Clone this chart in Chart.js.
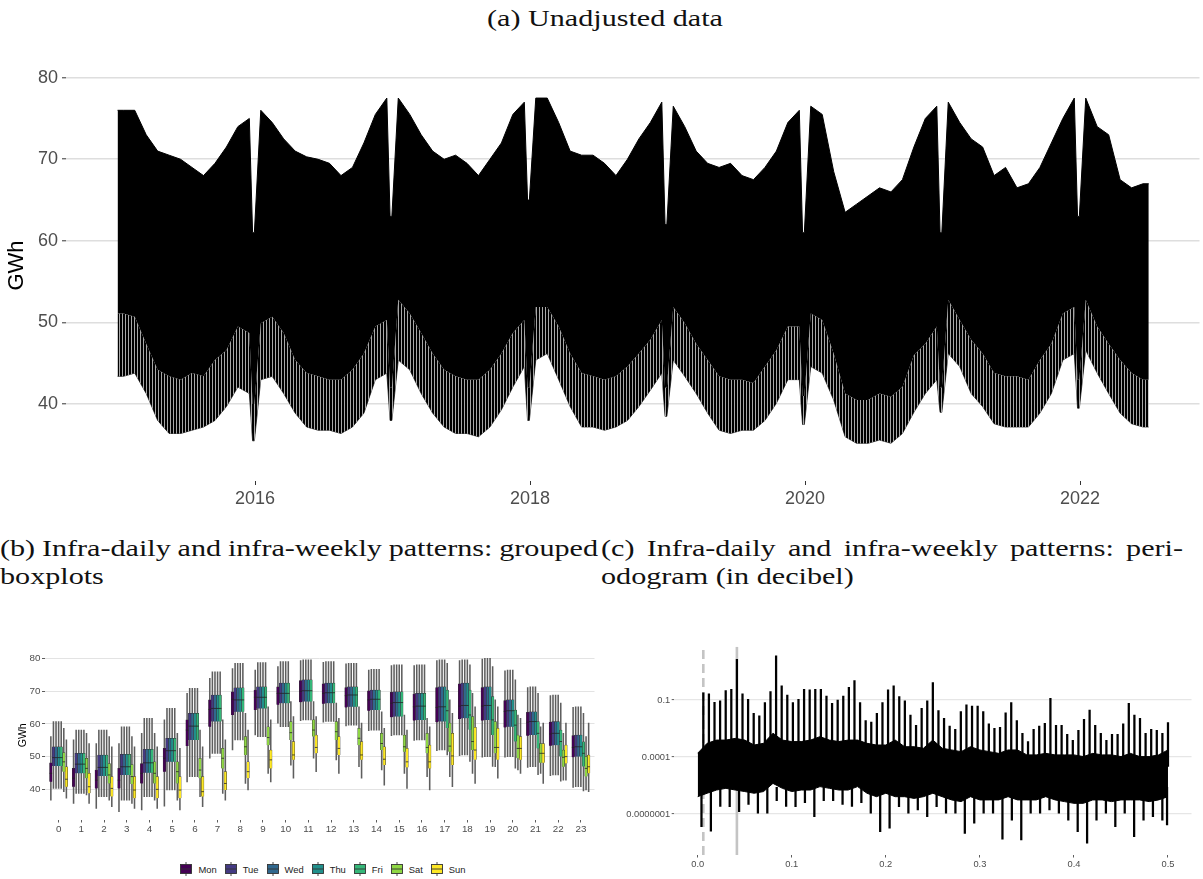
<!DOCTYPE html>
<html>
<head>
<meta charset="utf-8">
<script src="https://cdn.jsdelivr.net/npm/chart.js@4.4.0/dist/chart.umd.min.js"></script>
<style>
  body { margin: 0; background: #fff; }
  #page { position: relative; width: 1203px; height: 879px; overflow: hidden; background: #fff; }
  canvas { position: absolute; }
  .cap { position: absolute; font-family: "Liberation Serif", serif; font-size: 24px; line-height: 28px;
         white-space: nowrap; color: #111; transform-origin: 0 0; }
  #legend { position: absolute; left: 0; width: 646px; top: 861px; height: 16px; display: flex;
            justify-content: center; align-items: center; font: 9.4px "Liberation Sans", Arial, sans-serif; color: #222; }
  #legend .item { display: flex; align-items: center; margin: 0 4px; }
  #legend svg { margin-right: 6px; }
</style>
</head>
<body>
<div id="page">
  <div class="cap" id="title" style="left:487px; top:4px;">(a) Unadjusted data</div>
  <canvas id="chartA" width="1203" height="500" style="left:0; top:30px;"></canvas>

  <div class="cap" data-w="598" style="left:0; top:534px;">(b) Infra-daily and infra-weekly patterns: grouped</div>
  <div class="cap" style="left:0; top:562px;">boxplots</div>
  <div class="cap" data-w="582" style="left:601px; top:534px;">(c) Infra-daily and infra-weekly patterns: peri-</div>
  <div class="cap" style="left:601px; top:562px;">odogram (in decibel)</div>

  <canvas id="chartB" width="600" height="205" style="left:0; top:640px;"></canvas>
  <div id="legend"></div>
  <canvas id="chartC" width="603" height="242" style="left:600px; top:637px;"></canvas>
</div>

<script>
// ============================================================
// (a) hourly consumption, read as monthly envelopes (GWh)
// ============================================================
// Jan 2015 .. Jun 2022, one value per month
const monthHigh = [
  76, 76, 73, 71, 70.5, 70, 69, 68, 69.5, 71.5, 74, 75,
  76, 74.5, 72.5, 71, 70.3, 70, 69.5, 68, 69, 72, 75.5, 77.5,
  77.5, 75.5, 73, 71, 70, 70.5, 69.5, 68, 70, 72, 75.5, 77,
  77.5, 77.5, 74.5, 71, 70.5, 70.5, 69.5, 68, 70, 72.5, 74.5, 77,
  76.5, 74, 71, 69.5, 69, 69.5, 68, 67.5, 69, 71, 74.5, 76,
  76.5, 75.5, 68.5, 63.5, 64.5, 65.5, 66.5, 66, 67.5, 71.5, 75, 76.5,
  77, 74.5, 72.5, 71.5, 68, 69, 66.5, 67, 69, 72, 75, 77.5,
  77.5, 74, 73, 67.5, 66.5, 67
];
// where the solid black stops and the weekly "comb" starts
const monthCore = [
  51.1, 50.7, 47.4, 44.2, 43.4, 43, 43.8, 43.4, 45.4, 46.6, 49.5, 48.7,
  49.9, 50.7, 48.7, 45.4, 43.8, 43.4, 43, 43, 44.2, 46.2, 49.5, 50.3,
  52.8, 51.1, 48.7, 46.2, 44.2, 43.4, 43, 43, 44.2, 46.2, 48.7, 50.3,
  51.9, 51.9, 49.5, 46.2, 43.8, 43.4, 43, 43.4, 44.6, 46.2, 47.9, 50.3,
  51.9, 49.9, 47.4, 45.4, 43.4, 43, 43, 42.6, 44.6, 46.6, 49.5, 49.5,
  51.1, 50.3, 46.2, 41.3, 40.5, 40.5, 41.3, 40.9, 42.1, 46, 47.4, 49.5,
  52.8, 50.3, 47.9, 46.2, 43.8, 43.4, 43.4, 43, 45.4, 47.4, 51.1, 51.9,
  52.8, 49.5, 47.4, 45.4, 43.8, 43
];
// lowest teeth
const monthTip = [
  43.4, 43.8, 41.3, 38, 36.4, 36.4, 36.8, 37.2, 38, 39.7, 42.1, 41.3,
  43, 43.4, 41.3, 38.9, 37.2, 36.8, 36.8, 36.4, 37.2, 38.9, 43, 43.8,
  45.4, 44.2, 41.3, 38.9, 37.2, 36.4, 36.4, 36, 37.2, 39.3, 42.1, 44.6,
  45.4, 46.2, 43, 39.7, 37.2, 37.2, 36.8, 37.2, 38, 39.7, 41.7, 43.8,
  45.4, 43.4, 41.3, 38.9, 36.8, 36.4, 36.8, 36.8, 38, 40.1, 43, 43,
  44.6, 43.8, 40.5, 36, 35.2, 35.2, 35.6, 35.2, 36.4, 39, 41.3, 43,
  46.2, 44.6, 41.3, 39.7, 37.6, 37.2, 37.2, 37.2, 38.9, 41.3, 45.4, 46.2,
  46.6, 43.8, 41.3, 38.9, 37.6, 37.2
];
// Christmas week dips
const xmasYears = [2015, 2016, 2017, 2018, 2019, 2020, 2021];
const xmasHigh = [61, 63, 65, 62, 61, 61, 63];
const xmasCore = [40, 42, 42, 42, 41, 42, 43];
const xmasTip = [35.5, 38, 38, 38.5, 37.5, 39, 39.5];

const yearTicks = [2016, 2018, 2020, 2022];
const gwhTicks = [40, 50, 60, 70, 80];

// ============================================================
// (b) grouped boxplots, rows = Mon..Sun, columns = hour 0..23
// ============================================================
const hours = [0,1,2,3,4,5,6,7,8,9,10,11,12,13,14,15,16,17,18,19,20,21,22,23];
const dayNames = ["Mon", "Tue", "Wed", "Thu", "Fri", "Sat", "Sun"];
const dayColors = ["#440154", "#443A83", "#31688E", "#21908C", "#35B779", "#8FD744", "#FDE725"];

const boxLow = [
  [36.7,35.7,34.2,33.2,33.7,34.9,42.3,49.5,52.0,56.6,60.2,61.0,60.5,59.4,57.9,56.4,54.9,51.8,50.3,49.8,49.8,46.7,44.2,40.6],
  [40.3,38.8,37.8,36.7,37.8,39.8,43.9,51.0,55.1,56.1,59.1,61.2,60.7,59.6,58.1,56.6,55.1,52.0,50.5,50.0,50.0,46.9,44.4,40.8],
  [40.3,38.8,37.8,36.7,37.8,39.8,43.9,51.0,55.1,56.1,59.1,61.2,60.7,59.6,58.1,56.6,55.1,52.0,50.5,50.0,50.0,46.9,44.4,40.8],
  [40.3,38.8,37.8,36.7,37.8,39.8,43.9,51.0,55.1,56.1,59.1,61.2,60.7,59.6,58.1,56.6,55.1,52.0,50.5,50.0,50.0,46.9,44.4,40.8],
  [40.3,38.8,37.8,36.7,37.8,39.8,43.9,51.0,55.1,56.1,59.1,61.2,60.7,59.6,58.1,56.6,55.1,50.5,48.5,47.0,46.5,44.5,42.5,39.5],
  [39.3,38.3,36.7,35.7,36.7,36.7,37.8,38.8,41.8,44.9,47.4,49.5,49.0,46.9,45.9,44.9,43.9,43.9,44.9,46.9,45.9,44.9,42.8,39.8],
  [37.3,35.7,34.7,34.2,34.2,33.7,34.7,36.7,39.8,42.3,43.4,45.4,44.9,43.4,41.3,40.3,39.8,40.8,41.8,43.4,44.9,41.8,42.8,39.3]
];
const boxQ1 = [
  [42.3,40.8,40.3,40.3,41.8,45.4,53.2,59.1,62.7,64.2,65.8,66.6,66.1,65.0,64.0,62.0,61.0,60.5,61.5,61.0,58.9,56.4,53.3,49.8],
  [47.1,44.9,44.1,44.4,45.1,48.4,55.1,60.7,63.7,64.7,66.3,66.8,66.3,65.2,64.2,62.2,61.2,60.7,61.7,61.2,59.1,56.6,53.5,50.0],
  [47.1,44.9,44.1,44.4,45.1,48.4,55.1,60.7,63.7,64.7,66.3,66.8,66.3,65.2,64.2,62.2,61.2,60.7,61.7,61.2,59.1,56.6,53.5,50.0],
  [47.1,44.9,44.1,44.4,45.1,48.4,55.1,60.7,63.7,64.7,66.3,66.8,66.3,65.2,64.2,62.2,61.2,60.7,61.7,61.2,59.1,56.6,53.5,50.0],
  [47.1,44.9,44.1,44.4,45.1,48.4,55.1,60.7,63.7,64.7,66.3,66.8,66.3,65.2,64.2,62.2,61.2,58.7,58.2,56.6,54.6,52.5,50.0,47.0],
  [45.4,43.4,41.8,41.6,41.8,41.8,43.4,46.4,50.5,53.5,55.1,56.1,55.1,53.5,52.0,51.5,51.0,51.5,52.0,51.0,49.5,48.1,46.9,43.9],
  [40.8,38.8,37.8,37.3,37.3,37.3,37.8,39.8,43.4,46.4,49.0,51.0,50.5,49.0,47.4,46.7,46.4,47.4,49.0,49.0,49.0,48.1,47.9,44.9]
];
const boxMed = [
  [44.9,43.4,42.8,42.8,44.9,49.5,58.1,64.4,67.5,68.1,69.3,69.9,69.3,68.6,67.3,66.3,65.2,65.0,65.4,65.4,63.8,60.5,56.9,52.8],
  [49.7,47.7,46.7,46.9,48.1,51.8,59.3,64.7,67.3,68.1,69.3,70.1,69.5,68.8,67.5,66.5,65.4,65.2,65.6,65.6,64.0,60.7,57.1,53.0],
  [49.7,47.7,46.7,46.9,48.1,51.8,59.3,64.7,67.3,68.1,69.3,70.1,69.5,68.8,67.5,66.5,65.4,65.2,65.6,65.6,64.0,60.7,57.1,53.0],
  [49.7,47.7,46.7,46.9,48.1,51.8,59.3,64.7,67.3,68.1,69.3,70.1,69.5,68.8,67.5,66.5,65.4,65.2,65.6,65.6,64.0,60.7,57.1,53.0],
  [49.7,47.7,46.7,46.9,48.1,51.8,59.3,64.7,67.3,68.1,69.3,70.1,69.5,68.8,67.5,66.5,65.4,64.0,62.7,61.2,59.6,57.1,54.6,51.0],
  [48.4,46.4,44.4,43.9,44.9,45.4,45.9,49.5,53.0,55.8,57.3,58.1,57.6,55.6,54.0,53.0,52.8,53.2,54.6,52.8,52.5,51.0,49.8,46.4],
  [43.1,40.8,40.3,39.8,40.0,39.8,39.3,41.8,45.4,49.0,50.5,52.8,52.5,50.5,49.2,48.4,48.4,50.2,52.0,52.8,52.5,51.0,50.0,46.9]
];
const boxQ3 = [
  [48.1,46.4,45.9,46.4,47.9,52.5,61.2,67.3,69.8,70.3,71.3,73.2,72.2,71.1,70.1,69.6,69.1,71.1,72.2,71.1,67.1,63.5,60.5,56.4],
  [53.0,51.0,50.5,50.7,52.2,55.6,63.2,68.8,71.0,71.3,72.4,73.4,72.4,71.3,70.3,69.8,69.3,71.3,72.4,71.3,67.3,63.7,60.7,56.6],
  [53.0,51.0,50.5,50.7,52.2,55.6,63.2,68.8,71.0,71.3,72.4,73.4,72.4,71.3,70.3,69.8,69.3,71.3,72.4,71.3,67.3,63.7,60.7,56.6],
  [53.0,51.0,50.5,50.7,52.2,55.6,63.2,68.8,71.0,71.3,72.4,73.4,72.4,71.3,70.3,69.8,69.3,71.3,72.4,71.3,67.3,63.7,60.7,56.6],
  [53.0,51.0,50.5,50.7,52.2,55.6,63.2,68.8,71.0,71.3,72.4,73.4,72.4,71.3,70.3,69.8,69.3,70.3,70.3,68.3,64.2,60.7,58.1,54.5],
  [51.2,49.5,47.9,47.6,48.4,48.4,49.5,52.5,56.1,59.1,60.7,61.2,60.7,58.6,57.1,56.6,57.1,60.2,62.2,60.7,56.6,54.0,52.0,50.0],
  [46.9,44.9,43.9,43.9,43.9,43.9,43.9,45.4,48.4,52.0,54.6,56.6,56.1,54.6,53.0,52.5,53.5,57.1,58.9,58.6,56.1,54.0,53.5,50.5]
];
const boxHigh = [
  [56.1,55.1,54.0,54.0,57.1,61.2,69.3,73.9,76.9,76.4,77.5,79.3,78.8,78.3,76.4,77.8,77.8,79.3,79.3,79.8,76.2,71.1,68.6,65.0],
  [60.7,58.1,58.1,59.1,61.7,64.7,70.8,75.9,78.5,78.7,79.0,79.5,79.0,78.5,76.6,78.0,78.0,79.5,79.5,80.0,76.4,71.3,68.8,65.2],
  [60.7,58.1,58.1,59.1,61.7,64.7,70.8,75.9,78.5,78.7,79.0,79.5,79.0,78.5,76.6,78.0,78.0,79.5,79.5,80.0,76.4,71.3,68.8,65.2],
  [60.7,58.1,58.1,59.1,61.7,64.7,70.8,75.9,78.5,78.7,79.0,79.5,79.0,78.5,76.6,78.0,78.0,79.5,79.5,80.0,76.4,71.3,68.8,65.2],
  [60.7,58.1,58.1,59.1,61.7,64.7,70.8,75.9,78.5,78.7,79.0,79.5,79.0,78.5,76.6,78.0,78.0,78.5,78.0,77.5,73.4,69.3,66.3,63.2],
  [58.6,57.1,56.1,56.1,57.1,57.1,58.1,61.2,63.2,65.2,66.8,66.8,66.3,65.2,63.7,62.7,61.7,67.3,69.3,67.3,62.7,59.1,57.1,56.1],
  [55.1,54.0,53.0,53.0,53.0,52.5,53.0,55.1,58.1,61.2,62.2,62.2,61.7,60.2,58.6,58.1,59.1,63.2,65.2,65.2,61.7,60.2,60.2,60.2]
];

// ============================================================
// (c) periodogram, log10 of the spectral values
// ============================================================
// noise band every 0.01 from 0.00 to 0.50
const bandTop = [
  -3.8, -3.28, -3.11, -3.11, -3.02, -3.11, -3.37, -3.28, -2.75, -3.11,
  -3.19, -3.19, -3.11, -2.93, -3.11, -3.19, -3.11, -3.11, -3.28, -3.37,
  -3.37, -3.11, -3.46, -3.46, -3.54, -3.11, -3.54, -3.63, -3.72, -3.46,
  -3.63, -3.72, -3.81, -3.63, -3.63, -3.89, -3.89, -3.81, -3.89, -3.89,
  -3.89, -3.98, -3.81, -3.89, -3.89, -3.98, -3.81, -3.98, -3.98, -3.89, -3.63
];
const bandBottom = [
  -6.09, -5.91, -5.74, -5.65, -5.74, -5.82, -5.91, -5.82, -5.39, -5.65,
  -5.82, -5.74, -5.74, -5.56, -5.65, -5.74, -5.74, -5.56, -5.91, -6.09,
  -5.91, -6.09, -6.09, -6.18, -6.09, -5.91, -6.09, -6.26, -6.35, -6.09,
  -6.26, -6.26, -6.26, -6.09, -6.26, -6.26, -6.26, -6.09, -6.26, -6.35,
  -6.44, -6.44, -6.26, -6.26, -6.35, -6.26, -6.26, -6.26, -6.35, -6.26, -6.09
];
const bandDips = [
  -7.67, -7.9, -6.6, -6.61, -6.88, -6.5, -6.96, -6.96, -6.3, -6.6,
  -6.61, -6.4, -7.14, -6.3, -6.3, -6.5, -6.6, -6.4, -6.96, -7.93,
  -7.75, -6.61, -6.96, -6.79, -7.14, -6.61, -6.96, -6.96, -8.02, -7.49,
  -6.96, -6.96, -8.33, -7.32, -8.37, -6.96, -6.96, -6.79, -6.96, -7.32,
  -7.93, -8.54, -7.32, -6.96, -7.67, -6.96, -8.19, -7.32, -7.14, -7.32, -7.58
];
// peaks at the harmonics k/168, k = 1..84
const peakTop = [
  -0.62, -0.68, -1.12, -1.04, -0.51, -0.44, 1.14, -0.68, -0.96, -1.70,
  -1.84, -1.14, -0.56, 1.32, -0.26, -0.74, -1.14, -0.96, -0.44, -0.47,
  -0.44, -0.44, -0.79, -1.18, -1.0, -0.79, -0.33, 0.02, -1.14, -2.09,
  -2.16, -1.70, -1.14, -0.47, -0.26, -0.82, -1.04, -1.79, -2.33, -1.44,
  -1.05, -0.09, -1.56, -1.96, -2.37, -2.54, -1.61, -1.26, -1.32, -1.32,
  -1.61, -2.26, -2.49, -2.44, -1.67, -1.14, -2.09, -2.75, -3.19, -2.54,
  -2.37, -2.23, -0.91, -2.33, -2.33, -2.81, -3.12, -2.60, -2.02, -1.53,
  -2.33, -2.75, -3.12, -2.81, -2.81, -2.26, -1.18, -1.79, -1.96, -2.75,
  -2.54, -2.60, -2.75, -2.19
];
const weeklyFreq = 1 / 168;
const dailyFreq = 1 / 24;
const freqTicks = [0, 0.1, 0.2, 0.3, 0.4, 0.5];
const freqLabels = ["0.0", "0.1", "0.2", "0.3", "0.4", "0.5"];
const powerTicks = [1e-7, 1e-4, 0.1];
const powerLabels = ["0.0000001", "0.0001", "0.1"];

// ============================================================
Chart.defaults.font.family = '"Liberation Sans", Arial, sans-serif';
Chart.defaults.animation = false;
Chart.defaults.responsive = false;
Chart.defaults.plugins.legend.display = false;
Chart.defaults.plugins.tooltip.enabled = false;

const tickGrey = "#4d4d4d";

// ── captions: serif, stretched to the widths of the original ──
(function fitCaptions() {
    var ctx = document.createElement("canvas").getContext("2d");
    ctx.font = '24px "Liberation Serif"';
    var title = document.getElementById("title");
    var s = 236 / ctx.measureText(title.textContent).width;
    document.querySelectorAll(".cap").forEach(function (el) {
        var w = ctx.measureText(el.textContent).width;
        var target = Number(el.dataset.w || 0);
        if (target) {
            var spaces = (el.textContent.match(/ /g) || []).length;
            el.style.wordSpacing = ((target / s - w) / spaces) + "px";
        }
        el.style.transform = "scaleX(" + s + ")";
    });
})();

// ── (a) series ──
function stripes() {
    var c = document.createElement("canvas");
    c.width = 3; c.height = 4;
    var g = c.getContext("2d");
    g.fillStyle = "#000"; g.fillRect(0, 0, 2, 4);
    g.fillStyle = "#a8a8a8"; g.fillRect(2, 0, 1, 4);
    return g.createPattern(c, "repeat");
}

var rows = [];
monthHigh.forEach(function (v, i) {
    rows.push({ x: 2015 + (i + 0.5) / 12, hi: v, core: monthCore[i], tip: monthTip[i] });
});
xmasYears.forEach(function (y, i) {
    [0.982, 0.995].forEach(function (f) {
        rows.push({ x: y + f, hi: xmasHigh[i], core: xmasCore[i], tip: xmasTip[i] });
    });
});
var last = monthHigh.length - 1;
rows.push({ x: 2015, hi: monthHigh[0], core: monthCore[0], tip: monthTip[0] });
rows.push({ x: 2015 + monthHigh.length / 12, hi: monthHigh[last], core: monthCore[last], tip: monthTip[last] });
rows.sort(function (a, b) { return a.x - b.x; });

new Chart(document.getElementById("chartA"), {
    type: "line",
    data: {
        datasets: [
            { data: rows.map(function (r) { return { x: r.x, y: r.hi }; }),
              borderColor: "#000", borderWidth: 1, backgroundColor: "#000", fill: "+1" },
            { data: rows.map(function (r) { return { x: r.x, y: r.core }; }),
              borderWidth: 0, backgroundColor: stripes(), fill: "+1" },
            { data: rows.map(function (r) { return { x: r.x, y: r.tip }; }),
              borderColor: "#222", borderWidth: 0.8, fill: false }
        ]
    },
    options: {
        layout: { padding: { top: 20, right: 3.5, left: 0, bottom: 0 } },
        elements: { point: { radius: 0 }, line: { tension: 0 } },
        scales: {
            x: {
                type: "linear", min: 2014.625, max: 2022.869,
                afterBuildTicks: function (s) { s.ticks = yearTicks.map(function (v) { return { value: v }; }); },
                afterFit: function (s) { s.height = 49; },
                grid: { drawOnChartArea: false, tickLength: 4, tickColor: "#333", tickWidth: 1 },
                border: { display: false },
                ticks: { color: tickGrey, font: { size: 18 }, padding: 3, maxRotation: 0, autoSkip: false,
                         callback: function (v) { return String(v); } }
            },
            y: {
                min: 30.58, max: 83.39,
                afterBuildTicks: function (s) { s.ticks = gwhTicks.map(function (v) { return { value: v }; }); },
                afterFit: function (s) { s.width = 66; },
                grid: { color: "#dedede", lineWidth: 1.6, tickLength: 4, tickColor: "#333", tickWidth: 1 },
                border: { display: false },
                ticks: { color: tickGrey, font: { size: 18 }, padding: 4, callback: function (v) { return String(v); } },
                title: { display: true, text: "GWh", color: "#000", font: { size: 22 }, padding: { top: 4, bottom: 0 } }
            }
        }
    }
});

// ── (b) boxplots ──
var dodge = 0.114;
var boxSets = [];
dayNames.forEach(function (name, d) {
    var off = (d - 3) * dodge;
    boxSets.push({
        type: "bar", order: 3, barThickness: 0.9, backgroundColor: "#5e5e5e",
        data: hours.map(function (h) { return { x: h + off, y: [boxLow[d][h], boxHigh[d][h]] }; })
    });
    boxSets.push({
        type: "bar", order: 2, barThickness: 2.6, backgroundColor: dayColors[d],
        borderColor: "#333", borderWidth: 0.5,
        data: hours.map(function (h) { return { x: h + off, y: [boxQ1[d][h], boxQ3[d][h]] }; })
    });
    boxSets.push({
        type: "scatter", order: 1, pointStyle: "line", pointRadius: 1.3, borderColor: "#222", borderWidth: 0.8,
        data: hours.map(function (h) { return { x: h + off, y: boxMed[d][h] }; })
    });
});

new Chart(document.getElementById("chartB"), {
    type: "bar",
    data: { datasets: boxSets },
    options: {
        layout: { padding: { top: 10.6, right: 5.5, left: 0, bottom: 0 } },
        datasets: { bar: { grouped: false } },
        scales: {
            x: {
                type: "linear", min: -0.6, max: 23.6, offset: false,
                afterBuildTicks: function (s) { s.ticks = hours.map(function (v) { return { value: v }; }); },
                afterFit: function (s) { s.height = 25; },
                grid: { offset: false, drawOnChartArea: false, tickLength: 2.5, tickColor: "#333", tickWidth: 0.8 },
                border: { display: false },
                ticks: { color: tickGrey, font: { size: 9.8 }, padding: 1, maxRotation: 0, autoSkip: false,
                         callback: function (v) { return String(v); } }
            },
            y: {
                min: 30.65, max: 82.35,
                afterBuildTicks: function (s) { s.ticks = gwhTicks.map(function (v) { return { value: v }; }); },
                afterFit: function (s) { s.width = 45; },
                grid: { color: "#e3e3e3", lineWidth: 1, tickLength: 3, tickColor: "#333", tickWidth: 0.8 },
                border: { display: false },
                ticks: { color: tickGrey, font: { size: 9.8 }, padding: 1.5, callback: function (v) { return String(v); } },
                title: { display: true, text: "GWh", color: "#000", font: { size: 10.5 }, padding: { top: 17, bottom: 0 } }
            }
        }
    }
});

// legend with boxplot keys
var legend = document.getElementById("legend");
dayNames.forEach(function (name, d) {
    var item = document.createElement("span");
    item.className = "item";
    item.innerHTML =
        '<svg width="12" height="14" viewBox="0 0 12 14">' +
        '<line x1="6" y1="0" x2="6" y2="14" stroke="#333" stroke-width="0.9"/>' +
        '<rect x="0.5" y="2.5" width="11" height="9" fill="' + dayColors[d] + '" stroke="#333" stroke-width="0.9"/>' +
        '<line x1="0.5" y1="7" x2="11.5" y2="7" stroke="#333" stroke-width="0.9"/></svg>' +
        "<span>" + name + "</span>";
    legend.appendChild(item);
});

// ── (c) periodogram ──
var cMin = Math.pow(10, -9.16), cMax = Math.pow(10, 1.805);
var bandMid = Math.pow(10, -4.5);
var bandLow = Math.pow(10, -5.6);

new Chart(document.getElementById("chartC"), {
    type: "bar",
    data: {
        datasets: [
            { type: "line", order: 5, fill: "+1", backgroundColor: "#000", borderColor: "#000", borderWidth: 1,
              pointRadius: 0, data: bandTop.map(function (v, i) { return { x: i / 100, y: Math.pow(10, v) }; }) },
            { type: "line", order: 5, fill: false, borderColor: "#000", borderWidth: 1,
              pointRadius: 0, data: bandBottom.map(function (v, i) { return { x: i / 100, y: Math.pow(10, v) }; }) },
            { type: "bar", order: 4, barThickness: 1.6, backgroundColor: "#000",
              data: peakTop.map(function (v, i) { return { x: (i + 1) / 168, y: [bandMid, Math.pow(10, v)] }; }) },
            { type: "bar", order: 4, barThickness: 1.6, backgroundColor: "#000",
              data: bandDips.map(function (v, i) { return { x: Math.min(i / 100 + 0.004, 0.499), y: [Math.pow(10, v), bandLow] }; }) },
            { type: "line", order: 9, fill: false, borderColor: "#c4c4c4", borderWidth: 2.6, borderDash: [9, 5],
              pointRadius: 0, data: [{ x: weeklyFreq, y: cMin }, { x: weeklyFreq, y: cMax }] },
            { type: "line", order: 9, fill: false, borderColor: "#c4c4c4", borderWidth: 2.6,
              pointRadius: 0, data: [{ x: dailyFreq, y: cMin }, { x: dailyFreq, y: cMax }] }
        ]
    },
    options: {
        layout: { padding: { top: 9.7, right: 11.5, left: 0, bottom: 0 } },
        datasets: { bar: { grouped: false } },
        elements: { line: { tension: 0 } },
        scales: {
            x: {
                type: "linear", min: -0.025, max: 0.525, offset: false,
                afterBuildTicks: function (s) { s.ticks = freqTicks.map(function (v) { return { value: v }; }); },
                afterFit: function (s) { s.height = 24; },
                grid: { offset: false, drawOnChartArea: false, tickLength: 2.5, tickColor: "#333", tickWidth: 0.8 },
                border: { display: false },
                ticks: { color: tickGrey, font: { size: 9.3 }, padding: 1, maxRotation: 0, autoSkip: false,
                         callback: function (v, i) { return freqLabels[i]; } }
            },
            y: {
                type: "logarithmic", min: cMin, max: cMax,
                afterBuildTicks: function (s) { s.ticks = powerTicks.map(function (v) { return { value: v }; }); },
                afterFit: function (s) { s.width = 74.2; },
                grid: { color: "#e6e6e6", lineWidth: 1.2, tickLength: 2.5, tickColor: "#333", tickWidth: 0.8 },
                border: { display: false },
                ticks: { color: tickGrey, font: { size: 9.3 }, padding: 1.5,
                         callback: function (v, i) { return powerLabels[i]; } }
            }
        }
    }
});
</script>
</body>
</html>
